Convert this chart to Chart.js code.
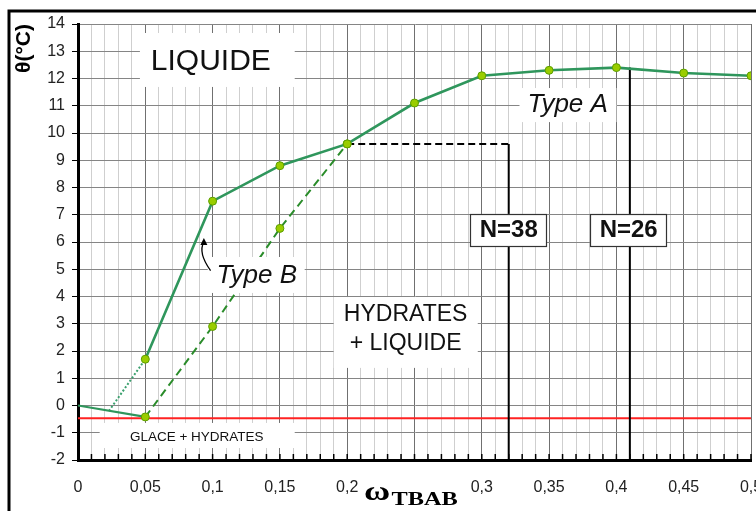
<!DOCTYPE html>
<html><head><meta charset="utf-8">
<script src="https://cdn.jsdelivr.net/npm/chart.js@4/dist/chart.umd.min.js"></script>
<style>html,body{margin:0;padding:0;background:#fff;}#wrap{width:756px;height:511px;position:relative;}</style>
</head><body><div id="wrap"><canvas id="c" width="756" height="511"></canvas></div>
<script>
// ---- data ----
const omegaA = [0.05, 0.10, 0.15, 0.20, 0.25, 0.30, 0.35, 0.40, 0.45, 0.50];
const thetaA = [1.7, 7.5, 8.8, 9.6, 11.1, 12.1, 12.3, 12.4, 12.2, 12.1];
const omegaB = [0.05, 0.10, 0.15, 0.20];
const thetaB = [-0.42, 2.9, 6.5, 9.6];
const omegaIce = [0, 0.05];
const thetaIce = [0, -0.42];
const omegaIceExt = [0.023, 0.05];
const thetaIceExt = [-0.2, 1.7];
const omegaEutectic = [0, 0.5];
const thetaEutectic = [-0.47, -0.47];
const omegaN38 = [0.2, 0.32, 0.32];
const thetaN38 = [9.6, 9.6, -2];
const omegaN26 = [0.41, 0.41];
const thetaN26 = [12.4, -2];
const xTickLabels = ['0', '0,05', '0,1', '0,15', '0,2', '', '0,3', '0,35', '0,4', '0,45', '0,5'];
const yTitle = 'θ(°C)';
const xTitleMain = 'ω';
const xTitleSub = 'TBAB';

const zip = (xs, ys) => xs.map((v, i) => ({x: v, y: ys[i]}));

// text annotations, placed in data coordinates
const notes = [
  {lines: ['LIQUIDE'], x: 0.0987, y: [12.6], box: [0.046, 13.67, 0.161, 11.69], font: '30px "Liberation Sans", Arial'},
  {lines: ['Type A'], x: 0.3638, y: [11.03], box: [0.328, 11.65, 0.400, 10.40], font: 'italic 26px "Liberation Sans", Arial'},
  {lines: ['Type B'], x: 0.1328, y: [4.75], box: [0.0964, 5.45, 0.1684, 4.13], font: 'italic 26px "Liberation Sans", Arial'},
  {lines: ['N=38'], x: 0.32, y: [6.44], box: [0.2915, 7.03, 0.3482, 5.85], font: 'bold 24px "Liberation Sans", Arial', border: '#333'},
  {lines: ['N=26'], x: 0.4091, y: [6.44], box: [0.3807, 7.03, 0.4371, 5.85], font: 'bold 24px "Liberation Sans", Arial', border: '#333'},
  {lines: ['HYDRATES', '+ LIQUIDE'], x: 0.2434, y: [3.32, 2.26], box: [0.190, 3.98, 0.297, 1.38], font: '23px "Liberation Sans", Arial'},
  {lines: ['GLACE + HYDRATES'], x: 0.0882, y: [-1.15], box: [0.0161, -0.64, 0.161, -1.56], font: '13.5px "Liberation Sans", Arial'}
];

const annot = {
  id: 'annot',
  afterDatasetsDraw(chart) {
    const {ctx, scales: {x, y}} = chart;
    ctx.save();
    for (const n of notes) {
      const X1 = x.getPixelForValue(n.box[0]), Y1 = y.getPixelForValue(n.box[1]);
      const X2 = x.getPixelForValue(n.box[2]), Y2 = y.getPixelForValue(n.box[3]);
      ctx.fillStyle = '#fff';
      ctx.fillRect(X1, Y1, X2 - X1, Y2 - Y1);
      if (n.border) {
        ctx.strokeStyle = n.border; ctx.lineWidth = 1.2;
        ctx.strokeRect(Math.round(X1) + 0.5, Math.round(Y1) + 0.5, Math.round(X2 - X1), Math.round(Y2 - Y1));
      }
      ctx.fillStyle = '#111';
      ctx.font = n.font; ctx.textAlign = 'center'; ctx.textBaseline = 'middle';
      const cx = x.getPixelForValue(n.x);
      n.lines.forEach((t, i) => ctx.fillText(t, cx, y.getPixelForValue(n.y[i])));
    }
    // curved arrow pointing at the Type B curve
    const tx = x.getPixelForValue(0.0985), ty = y.getPixelForValue(4.95);
    const qx = x.getPixelForValue(0.089), qy = y.getPixelForValue(5.6);
    const hx = x.getPixelForValue(0.0935), hy = y.getPixelForValue(6.15);
    ctx.strokeStyle = '#000'; ctx.lineWidth = 1.3;
    ctx.beginPath(); ctx.moveTo(tx, ty); ctx.quadraticCurveTo(qx, qy, hx, hy + 4); ctx.stroke();
    ctx.fillStyle = '#000';
    ctx.beginPath(); ctx.moveTo(hx, hy); ctx.lineTo(hx - 3.5, hy + 7); ctx.lineTo(hx + 3.5, hy + 7); ctx.closePath(); ctx.fill();
    ctx.restore();
  },
  afterDraw(chart) {
    const {ctx, scales: {x}, chartArea} = chart;
    ctx.save();
    // inward ticks on the x axis
    ctx.strokeStyle = '#000'; ctx.lineWidth = 1.5;
    x.ticks.forEach((t, i) => {
      const px = x.getPixelForTick(i);
      ctx.beginPath(); ctx.moveTo(px, chartArea.bottom); ctx.lineTo(px, chartArea.bottom - 6); ctx.stroke();
    });
    // x axis title  ω TBAB
    ctx.fillStyle = '#fff';
    ctx.fillRect(360, 476, 104, 35);
    ctx.translate(364, 0);
    ctx.scale(1.28, 1);
    ctx.fillStyle = '#000'; ctx.textAlign = 'left'; ctx.textBaseline = 'alphabetic';
    ctx.font = 'bold 28px "Liberation Serif", "DejaVu Serif", serif';
    ctx.fillText(xTitleMain, 0, 500);
    const w = ctx.measureText(xTitleMain).width;
    ctx.font = 'bold 19px "Liberation Serif", "DejaVu Serif", serif';
    ctx.fillText(xTitleSub, w + 1, 505);
    ctx.setTransform(1, 0, 0, 1, 0, 0);
    // frame
    ctx.strokeStyle = '#000'; ctx.lineWidth = 3;
    ctx.beginPath(); ctx.moveTo(9, 511); ctx.lineTo(9, 11); ctx.lineTo(756, 11); ctx.stroke();
    ctx.restore();
  }
};

const pointStyle = {pointRadius: 4, pointBackgroundColor: '#9acd00', pointBorderColor: '#5c9e00', pointBorderWidth: 1};

new Chart(document.getElementById('c'), {
  type: 'scatter',
  data: {
    datasets: [
      Object.assign({label: 'Type A', data: zip(omegaA, thetaA), showLine: true, borderColor: '#2f965c', borderWidth: 2.6, tension: 0}, pointStyle),
      Object.assign({label: 'Type B', data: zip(omegaB, thetaB), showLine: true, borderColor: '#2a8c2a', borderWidth: 2, borderDash: [8, 5]}, pointStyle),
      {label: 'Glace', data: zip(omegaIce, thetaIce), showLine: true, borderColor: '#2f965c', borderWidth: 2.2, pointRadius: 0},
      {label: 'Glace ext', data: zip(omegaIceExt, thetaIceExt), showLine: true, borderColor: '#3aa06e', borderWidth: 2, borderDash: [2, 2], pointRadius: 0},
      {label: 'N=38', data: zip(omegaN38, thetaN38), showLine: true, borderColor: '#000', borderWidth: 2, pointRadius: 0,
        segment: {borderDash: c => c.p0DataIndex === 0 ? [7, 4] : undefined}},
      {label: 'N=26', data: zip(omegaN26, thetaN26), showLine: true, borderColor: '#000', borderWidth: 2, pointRadius: 0},
      {label: 'Eutectique', data: zip(omegaEutectic, thetaEutectic), showLine: true, borderColor: '#ff2222', borderWidth: 2, pointRadius: 0}
    ]
  },
  options: {
    responsive: false, animation: false, devicePixelRatio: 1,
    layout: {padding: {left: 0, top: 24, right: 5, bottom: 0}},
    plugins: {legend: {display: false}, tooltip: {enabled: false}},
    scales: {
      x: {
        type: 'linear', min: 0, max: 0.5,
        ticks: {
          stepSize: 0.01, autoSkip: false, maxRotation: 0, minRotation: 0, padding: 18,
          color: '#222', font: {family: '"Liberation Sans", Arial', size: 16},
          callback: v => { const k = Math.round(v * 100); return k % 5 === 0 ? xTickLabels[k / 5] : ''; }
        },
        grid: {color: c => (Math.round(c.tick.value * 100) % 5 === 0 ? '#707070' : '#cfcfcf'), lineWidth: 1, drawTicks: false},
        border: {color: '#000', width: 3},
        afterFit(s) { s.height = 51; s.paddingLeft = 0; s.paddingRight = 0; }
      },
      y: {
        min: -2, max: 14,
        ticks: {stepSize: 1, padding: 7, color: '#222', font: {family: '"Liberation Sans", Arial', size: 16}},
        grid: {color: '#858585', lineWidth: 1, tickColor: '#000', tickLength: 6},
        border: {color: '#000', width: 3},
        title: {display: true, text: yTitle, align: 'end', color: '#000',
          font: {family: '"Liberation Sans", Arial', size: 21, weight: 'bold'}, padding: {top: 12, bottom: 0}},
        afterFit(s) { s.width = 78; s.paddingTop = 0; s.paddingBottom = 0; }
      }
    }
  },
  plugins: [annot]
});
</script></body></html>
